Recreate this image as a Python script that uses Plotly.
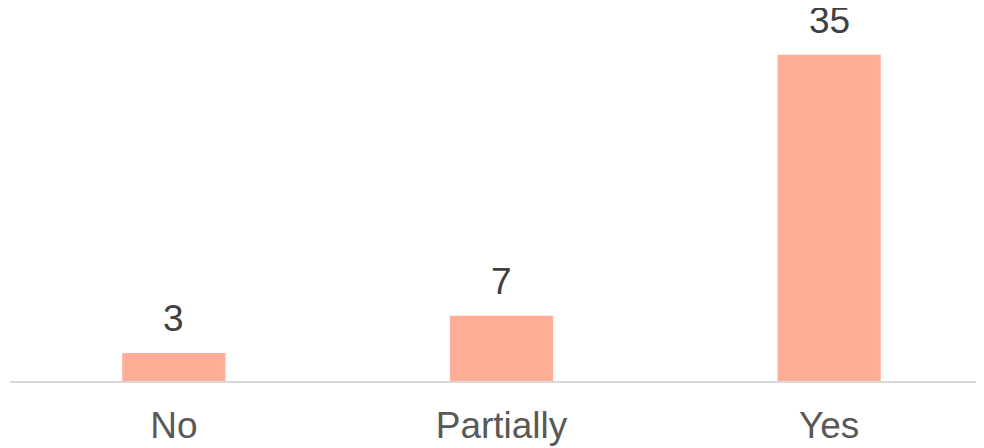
import plotly.graph_objects as go

categories = ["No", "Partially", "Yes"]
counts = [3, 7, 35]

bar_color = "#FFAD97"

fig = go.Figure()
fig.add_trace(go.Bar(x=categories, y=counts, marker=dict(color=bar_color, line=dict(width=0)),
                     width=0.315, hoverinfo="x+y"))

# value labels above each bar
for c, v in zip(categories, counts):
    fig.add_annotation(x=c, y=v, text=str(v), showarrow=False, yanchor="bottom", yshift=13,
                       borderpad=0,
                       font=dict(family="Liberation Sans, Arial", size=37, color="#404040"))

# page body has an 8px margin, so the figure is offset to line up with the window
fig.update_layout(
    width=985, height=440,
    margin=dict(l=2, r=0, t=0, b=67),
    plot_bgcolor="white", paper_bgcolor="white",
    showlegend=False,
    font=dict(family="Liberation Sans, Arial", color="#595959"),
)
fig.update_xaxes(showline=True, linecolor="#D9D9D9", linewidth=2, ticks="outside", ticklen=11,
                 tickcolor="rgba(0,0,0,0)", tickfont=dict(size=37, color="#595959"),
                 automargin=False)
fig.update_yaxes(range=[0, 40], visible=False, showgrid=False, zeroline=False, automargin=False)

fig.write_html("out.html")
